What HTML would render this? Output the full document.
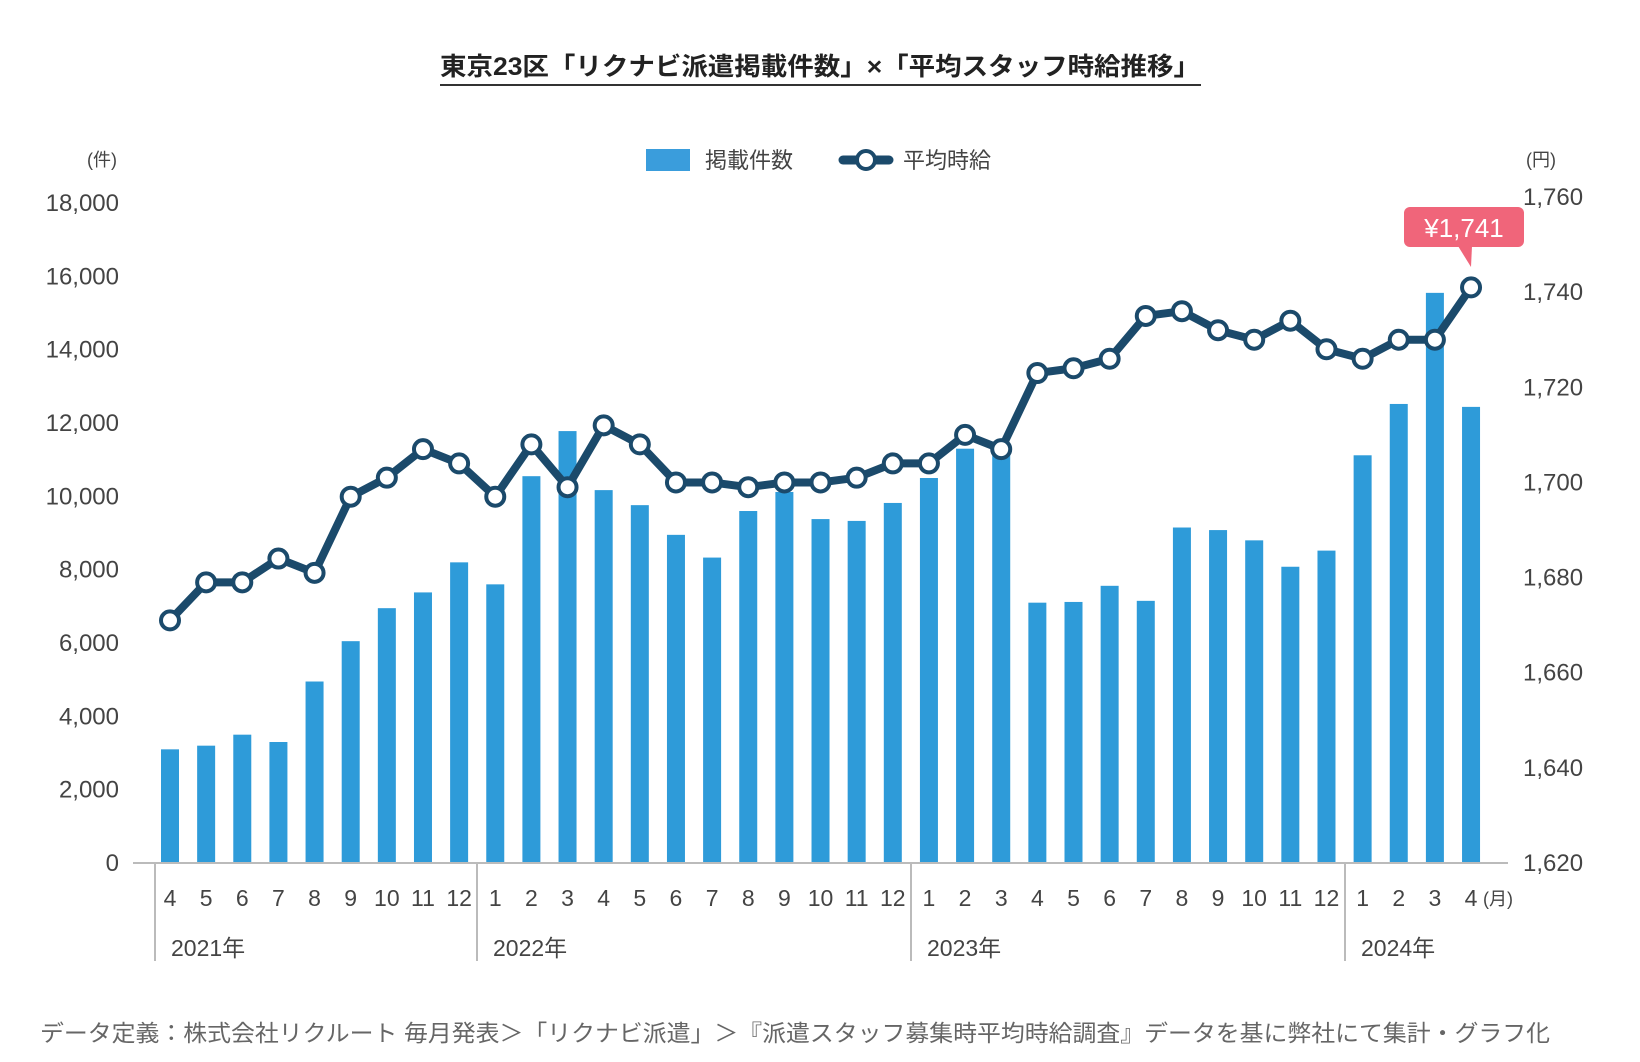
<!DOCTYPE html><html><head><meta charset="utf-8"><style>body{margin:0;background:#fff}svg{display:block}text{font-family:"Liberation Sans","Noto Sans CJK JP",sans-serif;fill:#444}</style></head><body>
<svg width="1640" height="1062" viewBox="0 0 1640 1062" xmlns="http://www.w3.org/2000/svg">
<text x="820" y="75" text-anchor="middle" font-size="25" font-weight="bold" style="fill:#222" textLength="760" lengthAdjust="spacingAndGlyphs">東京23区「リクナビ派遣掲載件数」×「平均スタッフ時給推移」</text>
<line x1="440" y1="85" x2="1201" y2="85" stroke="#333" stroke-width="2"/>
<rect x="646" y="149" width="44" height="22" fill="#3a9ddc"/>
<text x="705" y="168" font-size="22">掲載件数</text>
<line x1="843" y1="160" x2="889" y2="160" stroke="#1b4a6b" stroke-width="9" stroke-linecap="round"/>
<circle cx="866" cy="160" r="9" fill="#fff" stroke="#1b4a6b" stroke-width="4"/>
<text x="903" y="168" font-size="22">平均時給</text>
<text x="102" y="166" font-size="18" text-anchor="middle">(件)</text>
<text x="1541" y="166" font-size="18" text-anchor="middle">(円)</text>
</svg>
<script>
var s=document.querySelector('svg'),NS='http://www.w3.org/2000/svg';
function el(t,a,txt){var e=document.createElementNS(NS,t);for(var k in a)e.setAttribute(k,a[k]);if(txt!==undefined)e.textContent=txt;s.appendChild(e);return e;}
var Y0=863;
for(var i=0;i<=9;i++){var y=Y0-i*73.33;el('text',{x:119,y:y+8,'font-size':24,'text-anchor':'end'},(i*2000).toLocaleString('en-US'));}
for(var i=0;i<=7;i++){var y=Y0-i*95.14;el('text',{x:1523,y:y+8,'font-size':24},(1620+i*20).toLocaleString('en-US'));}
var bars=[3100,3200,3500,3300,4950,6050,6950,7380,8200,7600,10550,11780,10170,9760,8950,8330,9600,10120,9380,9330,9820,10500,11300,11250,7100,7120,7560,7150,9150,9080,8800,8080,8520,11120,12520,15550,12440];
var line=[1671,1679,1679,1684,1681,1697,1701,1707,1704,1697,1708,1699,1712,1708,1700,1700,1699,1700,1700,1701,1704,1704,1710,1707,1723,1724,1726,1735,1736,1732,1730,1734,1728,1726,1730,1730,1741];
var months=[4,5,6,7,8,9,10,11,12,1,2,3,4,5,6,7,8,9,10,11,12,1,2,3,4,5,6,7,8,9,10,11,12,1,2,3,4];
function X(i){return 170+i*36.14;}
bars.forEach(function(v,i){var h=v/2000*73.33;el('rect',{x:X(i)-9,y:Y0-h,width:18,height:h,fill:'#2e9bd9'});el('text',{x:X(i),y:906,'font-size':23,'text-anchor':'middle'},months[i]);});
el('text',{x:1483,y:905,'font-size':18},'(月)');
el('line',{x1:133,y1:Y0,x2:1508,y2:Y0,stroke:'#bbb','stroke-width':2});
[155,477,911,1345].forEach(function(x){el('line',{x1:x,y1:Y0+1,x2:x,y2:961,stroke:'#bbb','stroke-width':2});});
[['2021年',171],['2022年',493],['2023年',927],['2024年',1361]].forEach(function(a){el('text',{x:a[1],y:956,'font-size':23},a[0]);});
function LY(v){return Y0-(v-1620)/20*95.14;}
var pts=line.map(function(v,i){return X(i)+','+LY(v);}).join(' ');
el('polyline',{points:pts,fill:'none',stroke:'#1b4a6b','stroke-width':8,'stroke-linejoin':'round'});
line.forEach(function(v,i){el('circle',{cx:X(i),cy:LY(v),r:9,fill:'#fff',stroke:'#1b4a6b','stroke-width':4});});
el('rect',{x:1404,y:207,width:120,height:40,rx:6,fill:'#f0657a'});
el('polygon',{points:'1458,246 1472,246 1471,267',fill:'#f0657a'});
el('text',{x:1464,y:237,'font-size':26,'text-anchor':'middle',style:'fill:#fff'},'¥1,741');
el('text',{x:40,y:1041,'font-size':23,style:'fill:#666',textLength:1510,lengthAdjust:'spacingAndGlyphs'},'データ定義：株式会社リクルート 毎月発表＞「リクナビ派遣」＞『派遣スタッフ募集時平均時給調査』データを基に弊社にて集計・グラフ化');
</script>
</body></html>
